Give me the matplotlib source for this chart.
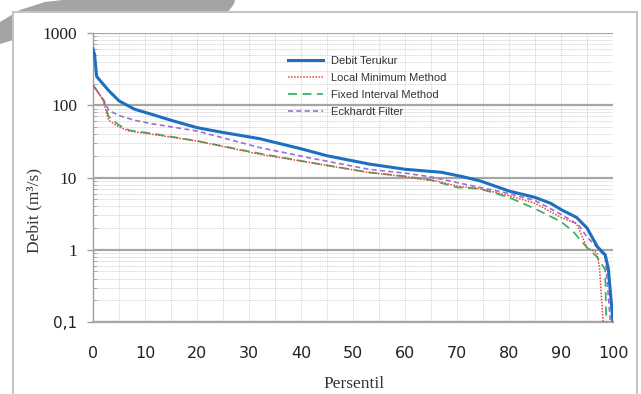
import matplotlib
matplotlib.use("Agg")
import matplotlib.pyplot as plt
from matplotlib.patches import Polygon, Rectangle
from matplotlib.ticker import FixedLocator, NullFormatter

W, H = 641, 394

# Debit Terukur (debit terukur)
x_terukur = [0, 0.3, 0.7, 3, 5, 8, 11, 15, 20, 25, 32, 40, 45, 53, 60, 67, 71, 74.4,
             80, 85, 88, 90, 93, 95, 97, 98.5, 99.1, 100]
q_terukur = [600, 500, 250, 160, 115, 88, 76, 62, 49, 42, 34.5, 25, 20, 15.4, 13, 11.8, 10.3, 9.0,
             6.5, 5.3, 4.4, 3.6, 2.8, 2.0, 1.1, 0.85, 0.55, 0.1]

# Local Minimum Method
x_lokal = [0, 1, 2, 3, 5, 7, 11, 20, 32, 42, 53, 60, 63, 66, 70, 74.4,
           80, 85, 90, 93, 95, 96.9, 97.4, 98.1]
q_lokal = [190, 150, 115, 62, 50, 44, 40, 32, 21, 16, 11.7, 10.3, 9.5, 9.0, 7.6, 7.0,
           5.6, 4.4, 2.8, 2.3, 1.07, 0.91, 0.57, 0.1]

# Fixed Interval Method
x_fixed = [0, 1, 2, 3, 5, 7, 11, 20, 32, 42, 53, 60, 65, 70, 74.4,
           80, 85, 90, 92.3, 95, 96.9, 98.5, 98.7]
q_fixed = [190, 150, 118, 70, 53, 45, 41, 32, 21.5, 16, 11.8, 10.4, 9.2, 7.3, 7.0,
           5.3, 3.7, 2.45, 1.8, 1.07, 0.8, 0.53, 0.1]

# Eckhardt Filter
x_eck = [0, 1, 2, 3, 5, 8, 11, 20, 32, 42, 53, 60, 65, 70, 74.4,
         80, 85, 90, 93.4, 95, 97, 98.5, 99.5]
q_eck = [190, 150, 120, 85, 72, 62, 56, 44, 26, 18.5, 13, 11.5, 10.2, 8.5, 7.3,
         6.0, 4.8, 3.1, 2.2, 1.5, 1.07, 0.8, 0.1]

x_ticks = [0, 10, 20, 30, 40, 50, 60, 70, 80, 90, 100]
y_ticks = [0.1, 1, 10, 100, 1000]
y_labels = ["0,1", "1", "10", "100", "1000"]

fig = plt.figure(figsize=(W / 100, H / 100), dpi=100)

# pita abu-abu di pojok kiri atas (bagian dari halaman)
band = [(0, 22), (20, 10), (45, 2), (80, -2), (236, -5), (234, 4), (228, 12),
        (150, 16), (60, 26), (0, 44)]
fig.patches.append(Polygon([(px / W, 1 - py / H) for px, py in band], closed=True,
                           transform=fig.transFigure, facecolor="#a4a4a4",
                           edgecolor="none", zorder=0))
# kotak grafik
fig.patches.append(Rectangle((13 / W, -0.05), (637 - 13) / W, 1.05 - 12 / H,
                             transform=fig.transFigure, facecolor="white",
                             edgecolor="#c4c4c4", lw=1.4, zorder=1))

ax = fig.add_axes([93 / W, 1 - 322 / H, 520 / W, 289 / H])
ax.set_facecolor("none")
ax.set_zorder(2)

ax.plot(x_terukur, q_terukur, color="#1f6fc0", lw=2.2, label="Debit Terukur", zorder=5)
ax.plot(x_lokal, q_lokal, color="#e8413a", lw=1.1, ls=(0, (1, 1)),
        label="Local Minimum Method", zorder=4)
ax.plot(x_fixed, q_fixed, color="#3db36b", lw=1.3, ls=(0, (5, 3)),
        label="Fixed Interval Method", zorder=3)
ax.plot(x_eck, q_eck, color="#9a6fd0", lw=1.2, ls=(0, (3, 2)),
        label="Eckhardt Filter", zorder=3)

ax.set_yscale("log")
ax.set_ylim(0.1, 1000)
ax.set_xlim(0, 100)

ax.yaxis.set_major_locator(FixedLocator(y_ticks))
ax.set_yticklabels(y_labels)
minor = [m * 10.0 ** e for e in range(-1, 3) for m in range(2, 10)]
ax.yaxis.set_minor_locator(FixedLocator(minor))
ax.yaxis.set_minor_formatter(NullFormatter())
ax.set_xticks(x_ticks)
ax.set_xticks(list(range(5, 100, 10)), minor=True)

# grid
ax.grid(True, which="major", axis="y", color="#a6a6a6", lw=1.6, ls="-")
ax.grid(True, which="minor", axis="y", color="#c8c8c8", lw=0.6, ls=(0, (1, 1)))
ax.grid(True, which="both", axis="x", color="#d2d2d2", lw=0.7, ls=(0, (1, 1)))
ax.set_axisbelow(True)

for s in ["top", "right"]:
    ax.spines[s].set_visible(False)
ax.spines["bottom"].set_color("#a6a6a6")
ax.spines["bottom"].set_linewidth(1.6)
ax.spines["left"].set_color("#a0a0a0")
ax.spines["left"].set_linewidth(1.0)

ax.tick_params(axis="y", which="major", direction="out", length=4.3, width=1.0,
               color="#a0a0a0", pad=7)
ax.tick_params(axis="y", which="minor", direction="in", length=3, width=0.6,
               color="#a0a0a0")
ax.tick_params(axis="x", which="both", length=0, pad=17.5)

for lab in ax.get_yticklabels():
    if lab.get_text() == "0,1":
        lab.set_fontfamily("DejaVu Sans")
        lab.set_fontsize(11)
    else:
        lab.set_fontfamily("Liberation Serif")
        lab.set_fontsize(12.5)
    lab.set_color("#222222")
for lab in ax.get_xticklabels():
    lab.set_fontfamily("DejaVu Sans")
    lab.set_fontsize(11.5)
    lab.set_color("#222222")

ax.set_ylabel("Debit (m³/s)", fontfamily="Liberation Serif", fontsize=12.5, color="#333333")
ax.yaxis.set_label_coords(-0.097, 0.385)
ax.set_xlabel("Persentil", fontfamily="Liberation Serif", fontsize=12.5, color="#333333")
ax.xaxis.set_label_coords(0.502, -0.188)

ax.legend(loc="upper left", bbox_to_anchor=(288 / W, 1 - 56 / H),
          bbox_transform=fig.transFigure, frameon=False, borderpad=0,
          borderaxespad=0, handlelength=3.15, handletextpad=0.7,
          labelspacing=0.62, prop={"family": "Liberation Sans", "size": 8},
          labelcolor="#333333")

fig.savefig("out.png", dpi=100)
